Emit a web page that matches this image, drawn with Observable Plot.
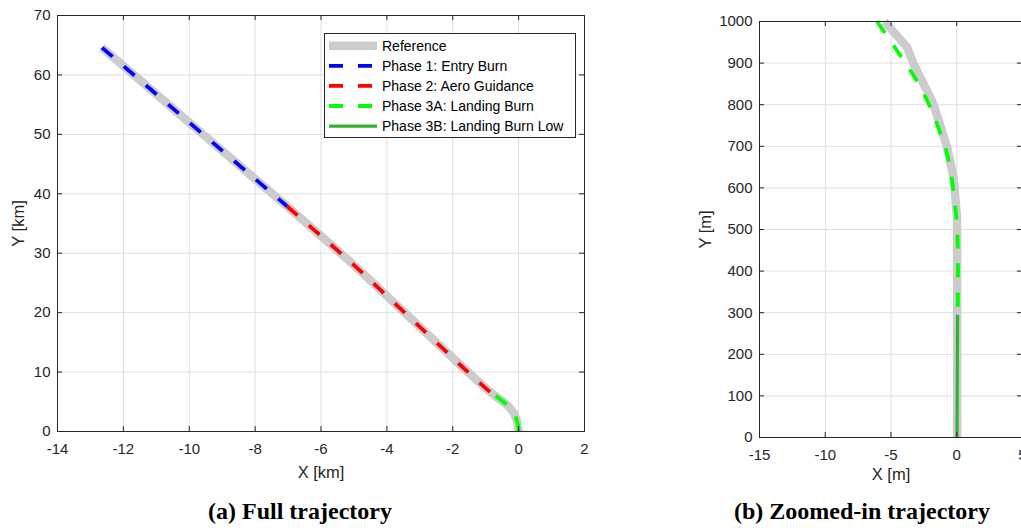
<!DOCTYPE html>
<html><head><meta charset="utf-8">
<script src="https://cdn.jsdelivr.net/npm/d3@7"></script>
<script src="https://cdn.jsdelivr.net/npm/@observablehq/plot@0.6"></script>
<style>
html,body{margin:0;padding:0;background:#fff;overflow:hidden;width:1021px;height:528px;}
#root{position:relative;width:1021px;height:528px;overflow:hidden;}
.panel{position:absolute;top:0;}
.caption{position:absolute;font-family:"Liberation Serif","Times New Roman",serif;font-weight:bold;font-size:24px;line-height:24px;color:#000;white-space:nowrap;transform:translateX(-50%);}
#legend{position:absolute;left:324px;top:33px;}
</style></head><body><div id="root"></div>
<script>
// ---- tick labels ----
const xTicksFull = [-14, -12, -10, -8, -6, -4, -2, 0, 2];
const yTicksFull = [0, 10, 20, 30, 40, 50, 60, 70];
const xTicksZoom = [-15, -10, -5, 0, 5];
const yTicksZoom = [0, 100, 200, 300, 400, 500, 600, 700, 800, 900, 1000];

// ---- full trajectory (km) ----
const refFullX = [-12.65, -10.0, -8.0, -7.03, -6.0, -5.0, -4.0, -3.0, -2.0, -1.5, -0.85, -0.34, -0.14, -0.04, 0.0];
const refFullY = [64.6, 52.0, 42.5, 37.9, 32.9, 28.0, 22.8, 17.6, 12.4, 9.8, 6.6, 4.4, 3.0, 1.6, 0.0];
const phase1X = [-12.65, -10.0, -8.0, -7.03];
const phase1Y = [64.6, 52.0, 42.5, 37.9];
const phase2X = [-7.03, -6.0, -5.0, -4.0, -3.0, -2.0, -1.5, -0.85, -0.70];
const phase2Y = [37.9, 32.9, 28.0, 22.8, 17.6, 12.4, 9.8, 6.6, 6.0];
const phase3aX = [-0.70, -0.34, -0.14, -0.04, 0.0];
const phase3aY = [6.0, 4.4, 3.0, 1.6, 0.3];
const phase3bX = [0.0, 0.0];
const phase3bY = [0.3, 0.0];

// ---- zoomed-in trajectory (m) ----
const refZoomX = [-5.5, -3.78, -3.29, -1.78, -0.74, -0.24, 0.02, 0.03, 0.03];
const refZoomY = [1000, 938, 899, 802, 698, 625, 530, 300, 0];
const phase3aZoomX = [-6.06, -4.29, -3.15, -2.13, -1.37, -0.74, -0.29, -0.02, 0.08, 0.09, 0.08];
const phase3aZoomY = [1000, 918, 863, 802, 742, 682, 602, 522, 457, 401, 313];
const phase3bZoomX = [0.06, 0.02];
const phase3bZoomY = [295, 0];

// ---- legend ----
const legendNames = ["Reference", "Phase 1: Entry Burn", "Phase 2: Aero Guidance", "Phase 3A: Landing Burn", "Phase 3B: Landing Burn Low"];
const legendColors = ["#cccccc", "#0000ff", "#ff0000", "#00ff00", "#33b333"];
const legendDash = [null, "14,15", "14,15", "14,15", null];
const legendWidths = [8.5, 3.8, 3.8, 3.8, 3.2];

const font = '"Liberation Sans", Arial, Helvetica, sans-serif';
const toPts = (xs, ys) => xs.map((x, i) => ({x, y: ys[i]}));

function makePanel(cfg) {
  const innerW = cfg.width - cfg.mL - cfg.mR;
  const innerH = cfg.height - cfg.mT - cfg.mB;
  const tick = 5;
  return Plot.plot({
    width: cfg.width, height: cfg.height,
    marginLeft: cfg.mL, marginTop: cfg.mT, marginRight: cfg.mR, marginBottom: cfg.mB,
    x: {domain: cfg.xDomain},
    y: {domain: cfg.yDomain},
    style: {fontFamily: font, fontSize: "15px", color: "#262626", background: "transparent", maxWidth: "none", overflow: "visible"},
    marks: [
      Plot.gridX(cfg.xTicks, {stroke: "#dfdfdf", strokeOpacity: 1}),
      Plot.gridY(cfg.yTicks, {stroke: "#dfdfdf", strokeOpacity: 1}),
      ...cfg.lines.map(l => Plot.line(toPts(l.x, l.y), {
        x: "x", y: "y", stroke: l.color, strokeWidth: l.width,
        strokeDasharray: l.dash, strokeLinecap: "butt", strokeLinejoin: "round",
        curve: l.curve || "linear"
      })),
      Plot.frame({stroke: "#262626", strokeWidth: 1}),
      Plot.ruleX(cfg.xTicks, {x: d => d, stroke: "#262626", insetTop: innerH - tick}),
      Plot.ruleX(cfg.xTicks, {x: d => d, stroke: "#262626", insetBottom: innerH - tick}),
      Plot.ruleY(cfg.yTicks, {y: d => d, stroke: "#262626", insetRight: innerW - tick}),
      Plot.ruleY(cfg.yTicks, {y: d => d, stroke: "#262626", insetLeft: innerW - tick}),
      Plot.axisX(cfg.xTicks, {tickSize: 0, tickPadding: 12, tickFormat: d => String(d), label: null}),
      Plot.axisY(cfg.yTicks, {tickSize: 0, tickPadding: 7, tickFormat: d => String(d), label: null}),
      Plot.text([cfg.xLabel], {text: d => d, frameAnchor: "bottom", lineAnchor: "middle", textAnchor: "middle", dy: cfg.xLabelDy, fontSize: 16.5, fill: "#262626"}),
      Plot.text([cfg.yLabel], {text: d => d, frameAnchor: "left", lineAnchor: "middle", textAnchor: "middle", dx: cfg.yLabelDx, rotate: -90, fontSize: 16.5, fill: "#262626"})
    ]
  });
}

const root = document.getElementById("root");

const left = makePanel({
  width: 600, height: 490, mL: 57, mT: 15, mR: 16, mB: 59,
  xDomain: [-14, 2], yDomain: [0, 70], xTicks: xTicksFull, yTicks: yTicksFull,
  xLabel: "X [km]", yLabel: "Y [km]", xLabelDy: 41, yLabelDx: -39,
  lines: [
    {x: refFullX, y: refFullY, color: legendColors[0], width: legendWidths[0], curve: "catmull-rom"},
    {x: phase1X, y: phase1Y, color: legendColors[1], width: legendWidths[1], dash: legendDash[1], curve: "catmull-rom"},
    {x: phase2X, y: phase2Y, color: legendColors[2], width: legendWidths[2], dash: legendDash[2], curve: "catmull-rom"},
    {x: phase3aX, y: phase3aY, color: legendColors[3], width: legendWidths[3], dash: legendDash[3], curve: "catmull-rom"},
    {x: phase3bX, y: phase3bY, color: legendColors[4], width: legendWidths[4]}
  ]
});
const leftWrap = document.createElement("div");
leftWrap.className = "panel"; leftWrap.style.left = "0px"; leftWrap.style.width = "600px";
leftWrap.appendChild(left);
root.appendChild(leftWrap);

const right = makePanel({
  width: 362, height: 490, mL: 79, mT: 21, mR: 20, mB: 53,
  xDomain: [-15, 5], yDomain: [0, 1000], xTicks: xTicksZoom, yTicks: yTicksZoom,
  xLabel: "X [m]", yLabel: "Y [m]", xLabelDy: 37, yLabelDx: -54,
  lines: [
    {x: refZoomX, y: refZoomY, color: legendColors[0], width: legendWidths[0]},
    {x: phase3aZoomX, y: phase3aZoomY, color: legendColors[3], width: legendWidths[3], dash: legendDash[3], curve: "catmull-rom"},
    {x: phase3bZoomX, y: phase3bZoomY, color: legendColors[4], width: legendWidths[4]}
  ]
});
const rightWrap = document.createElement("div");
rightWrap.className = "panel"; rightWrap.style.left = "680px"; rightWrap.style.width = "362px";
rightWrap.appendChild(right);
root.appendChild(rightWrap);

// legend box
const lg = d3.create("svg").attr("id", "legend").attr("width", 253).attr("height", 106)
  .style("font-family", font).style("font-size", "14px");
lg.append("rect").attr("x", 0.5).attr("y", 0.5).attr("width", 251).attr("height", 104)
  .attr("fill", "#fff").attr("stroke", "#262626").attr("stroke-width", 1);
legendNames.forEach((name, i) => {
  const cy = 12.7 + i * 20.1;
  lg.append("line").attr("x1", 5).attr("x2", 53).attr("y1", cy).attr("y2", cy)
    .attr("stroke", legendColors[i]).attr("stroke-width", legendWidths[i])
    .attr("stroke-dasharray", legendDash[i]);
  lg.append("text").attr("x", 58).attr("y", cy).attr("dy", "0.36em").attr("fill", "#000").text(name);
});
root.appendChild(lg.node());

// captions
const captions = [{text: "(a) Full trajectory", cx: 300}, {text: "(b) Zoomed-in trajectory", cx: 862}];
captions.forEach(c => {
  const d = document.createElement("div");
  d.className = "caption"; d.style.left = c.cx + "px"; d.style.top = "499px";
  d.textContent = c.text;
  root.appendChild(d);
});
</script></body></html>
